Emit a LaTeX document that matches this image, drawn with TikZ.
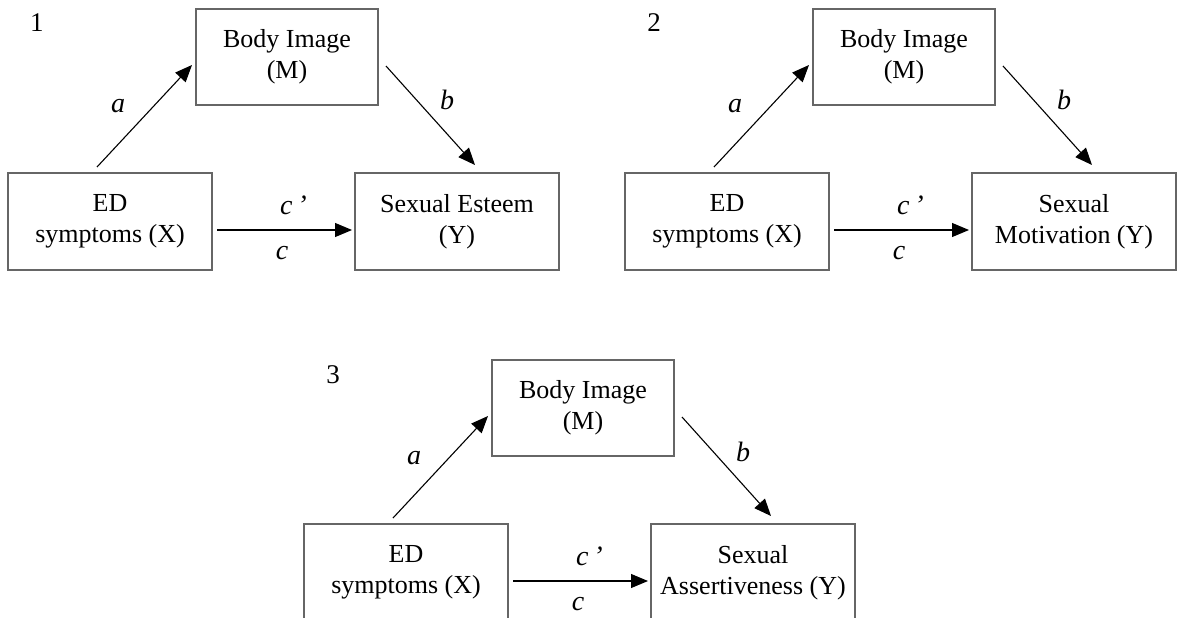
\documentclass[tikz,border=0pt]{standalone}
\usepackage{fontspec}
\setmainfont{Liberation Serif}
\usetikzlibrary{arrows.meta}

\definecolor{boxgray}{gray}{0.4}

\tikzset{
  box/.style={draw=boxgray, line width=2pt, inner sep=0pt, outer sep=0pt,
    align=center, font=\fontsize{26}{31}\selectfont},
  widebox/.style={box, minimum width=204pt, minimum height=97pt},
  midbox/.style={box, minimum width=182pt, minimum height=96pt},
  link/.style={line width=1.1pt, -{Triangle[length=17pt,width=14pt]}},
  coef/.style={font=\fontsize{28}{30}\selectfont\itshape, inner sep=0pt, anchor=base},
  tag/.style={font=\fontsize{27}{30}\selectfont, inner sep=0pt, anchor=base},
}

% One mediation model: #1 panel number, #2 outcome box text.
% Local origin is the top-left corner of the predictor box, y grows downward.
\newcommand\mediationmodel[2]{%
  \node[tag] (num) at (29,-141) {#1};
  \node[widebox] (x) at (102,48.5) {ED\\symptoms (X)};
  \node[midbox]  (m) at (279,-116) {Body Image\\(M)};
  \node[widebox] (y) at (449,48.5) {#2};
  \draw[link] ([shift={(-13,-6)}]x.north) -- ([shift={(-4,8)}]m.west);
  \draw[link] ([shift={(8,9)}]m.east) -- ([shift={(18,-8)}]y.north);
  \draw[link] ([shift={(5,8.5)}]x.east) -- ([shift={(-3,8.5)}]y.west);
  \node[coef] (la) at (110,-60) {a};
  \node[coef] (lb) at (439,-63) {b};
  \node[coef, anchor=base west] (lcp) at (272,41) {c\,’};
  \node[coef] (lc) at (274,86) {c};
}

\begin{document}
\begin{tikzpicture}[x=1pt, y=-1pt]
  \useasboundingbox (0,0) rectangle (1181,618);
  \fill[white] (0,0) rectangle (1181,618);

  \begin{scope}[shift={(8,173)}, name prefix=one-]
    \mediationmodel{1}{Sexual Esteem\\(Y)}
  \end{scope}

  \begin{scope}[shift={(625,173)}, name prefix=two-]
    \mediationmodel{2}{Sexual\\Motivation (Y)}
  \end{scope}

  \begin{scope}[shift={(304,524)}, name prefix=three-]
    \mediationmodel{3}{Sexual\\Assertiveness (Y)}
  \end{scope}
\end{tikzpicture}
\end{document}
